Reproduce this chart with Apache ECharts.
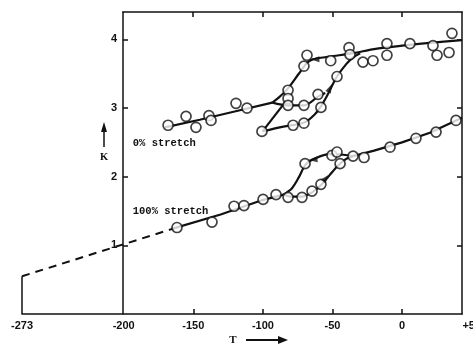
<!DOCTYPE html>
<html><head><meta charset="utf-8">
<script src="https://cdn.jsdelivr.net/npm/echarts@6/dist/echarts.min.js"></script>
<style>html,body{margin:0;padding:0;background:#fff}#c{width:473px;height:348px}</style>
</head><body><div id="c"></div>
<script>
// ---- data (T in °C, K) ----
const xTickLabels = [-273, -200, -150, -100, -50, 0];
const xTicks = [-150, -100, -50, 0];
const yTicks = [1, 2, 3, 4];

// 0% stretch measured points
const zeroPts = [[-167.7,2.75],[-154.8,2.88],[-147.7,2.72],[-138.4,2.89],[-136.9,2.82],[-119.0,3.07],[-111.1,3.00],
  [-100.4,2.66],[-81.7,3.26],[-81.7,3.14],[-81.7,3.04],[-78.1,2.75],[-70.3,2.78],[-70.3,3.04],[-70.3,3.61],[-68.1,3.77],
  [-60.2,3.20],[-58.1,3.01],[-51.1,3.69],[-46.6,3.46],[-38.0,3.88],[-37.3,3.78],[-28.0,3.67],[-20.8,3.69],
  [-10.8,3.94],[-10.8,3.77],[5.7,3.94],[22.2,3.91],[25.1,3.77],[33.7,3.81],[35.8,4.09]];
// 0% stretch curves
const zeroCooling = [[43,3.99],[20,3.95],[0,3.91],[-20,3.86],[-35,3.80],[-52,3.75],[-64,3.71],[-68,3.66],[-74,3.50],[-82,3.28],[-88,3.16],[-93,3.08]];
const zeroLow = [[-93,3.08],[-120,2.95],[-145,2.83],[-170,2.72]];
const zeroWarming = [[-100,2.66],[-85,2.73],[-70,2.79],[-62,2.92],[-58,3.03],[-54,3.17],[-51,3.29],[-46.6,3.46],[-40,3.64],[-35,3.74],[-30,3.80]];
const zeroDiag = [[-100,2.66],[-84,3.08]];
const zeroMid = [[-93,3.08],[-82,3.04],[-70,3.04],[-60,3.17],[-55,3.22]];

// 100% stretch measured points
const fullPts = [[-161.3,1.26],[-136.2,1.34],[-120.4,1.57],[-113.3,1.58],[-99.6,1.67],[-90.3,1.74],[-81.7,1.70],
  [-71.7,1.70],[-64.5,1.79],[-58.1,1.89],[-69.5,2.19],[-50.2,2.31],[-46.6,2.36],[-44.4,2.19],[-35.1,2.30],
  [-27.2,2.28],[-8.6,2.43],[10.0,2.56],[24.4,2.65],[38.7,2.82]];
// 100% stretch curves
const fullExtrap = [[-273,0.55],[-165,1.24]];
const fullLow = [[-165,1.24],[-130,1.45],[-100,1.66],[-85,1.74]];
const fullCooling = [[-85,1.74],[-79,1.83],[-74,1.99],[-69,2.18],[-62,2.27],[-52,2.33],[-42,2.32],[-35,2.30]];
const fullWarming = [[-85,1.74],[-80,1.71],[-72,1.71],[-64,1.78],[-58,1.88],[-52,2.02],[-46,2.16],[-40,2.26],[-35,2.30]];
const fullHigh = [[-35,2.30],[-20,2.38],[0,2.50],[20,2.64],[43,2.86]];
const absZeroMark = [[-273,0],[-273,0.55]];

// arrowheads: [T, K, rotation]
const arrows = [[-62.4,3.71,90],[-51.6,3.29,-25],[-63.8,2.25,95],[-54.5,1.98,-40]];
const labels = [{text:'0% stretch', t:-193, k:2.48},{text:'100% stretch', t:-193, k:1.49}];

const chart = echarts.init(document.getElementById('c'));
const axisFont = {fontFamily:'Liberation Sans', fontWeight:'bold', fontSize:11, color:'#111'};
const lineStyle = {color:'#111', width:2.2};
function curve(data, smooth, extra){
  return Object.assign({type:'line', xAxisIndex:1, yAxisIndex:1, data, smooth:smooth, symbol:'none',
    lineStyle:Object.assign({}, lineStyle), z:2, silent:true}, extra||{});
}
const series = [
  curve(zeroCooling, 0.3), curve(zeroLow, 0), curve(zeroWarming, 0.3), curve(zeroDiag, 0), curve(zeroMid, 0.3),
  curve(fullLow, 0), curve(fullCooling, 0.3), curve(fullWarming, 0.3), curve(fullHigh, 0),
  {type:'line', xAxisIndex:0, yAxisIndex:0, data:fullExtrap, symbol:'none', lineStyle:{color:'#111', width:2, type:[8,6]}, z:2},
  {type:'line', xAxisIndex:0, yAxisIndex:0, data:absZeroMark, symbol:'none', lineStyle:{color:'#111', width:1.5}, z:2},
  {type:'scatter', xAxisIndex:1, yAxisIndex:1, data:zeroPts.concat(fullPts), symbol:'circle', symbolSize:10,
    itemStyle:{color:'#fff', borderColor:'#111', borderWidth:1.7}, z:3},
  {type:'scatter', xAxisIndex:1, yAxisIndex:1, data:arrows.map(a=>[a[0],a[1]]), symbol:'triangle',
    symbolSize:[6,9], symbolRotate:(v,p)=>arrows[p.dataIndex][2], itemStyle:{color:'#111'}, z:4}
];

chart.setOption({
  animation:false,
  backgroundColor:'#fff',
  grid:[{left:22, right:11, top:12, bottom:34}, {left:123, right:11, top:12, bottom:34}],
  xAxis:[
    {gridIndex:0, type:'value', min:-273, max:43, position:'bottom',
      axisLine:{show:true, onZero:false, lineStyle:{color:'#111', width:1.5}},
      axisTick:{show:true, inside:true, length:5, customValues:xTicks, lineStyle:{color:'#111', width:1.5}},
      axisLabel:Object.assign({show:true, margin:6, customValues:xTickLabels}, axisFont),
      splitLine:{show:false}},
    {gridIndex:1, type:'value', min:-200, max:43, position:'top',
      axisLine:{show:true, onZero:false, lineStyle:{color:'#111', width:1.5}},
      axisTick:{show:true, inside:true, length:5, customValues:xTicks, lineStyle:{color:'#111', width:1.5}},
      axisLabel:{show:false}, splitLine:{show:false}}
  ],
  yAxis:[
    {gridIndex:0, type:'value', min:0, max:4.4, show:false},
    {gridIndex:1, type:'value', min:0, max:4.4, position:'left',
      axisLine:{show:true, onZero:false, lineStyle:{color:'#111', width:1.5}},
      axisTick:{show:true, inside:true, length:5, customValues:yTicks, lineStyle:{color:'#111', width:1.5}},
      axisLabel:Object.assign({show:true, margin:6, customValues:yTicks}, axisFont),
      splitLine:{show:false}},
    {gridIndex:1, type:'value', min:0, max:4.4, position:'right',
      axisLine:{show:true, onZero:false, lineStyle:{color:'#111', width:1.5}},
      axisTick:{show:true, inside:true, length:5, customValues:yTicks, lineStyle:{color:'#111', width:1.5}},
      axisLabel:{show:false}, splitLine:{show:false}}
  ],
  series
});

// graphic texts placed through the axes' own scales
const p0 = chart.convertToPixel({xAxisIndex:0, yAxisIndex:0}, [0, 0]);
const pm = chart.convertToPixel({xAxisIndex:0, yAxisIndex:0}, [-200, 0]);
const x50 = p0[0] + (p0[0]-pm[0]) * 50/200;
const g = [
  {type:'text', x:x50, y:p0[1]+6, style:{text:'+50', align:'center', verticalAlign:'top', fill:'#111', font:'bold 11px "Liberation Sans"'}},
  {type:'text', x:233, y:340, style:{text:'T', align:'center', verticalAlign:'middle', fill:'#111', font:'bold 11px "Liberation Serif"'}},
  {type:'line', shape:{x1:246, y1:340, x2:280, y2:340}, style:{stroke:'#111', lineWidth:2}},
  {type:'polygon', shape:{points:[[288,340],[278,336],[278,344]]}, style:{fill:'#111'}},
  {type:'text', x:104, y:157, style:{text:'K', align:'center', verticalAlign:'middle', fill:'#111', font:'bold 10.5px "Liberation Serif"'}},
  {type:'line', shape:{x1:104, y1:147, x2:104, y2:130}, style:{stroke:'#111', lineWidth:1.5}},
  {type:'polygon', shape:{points:[[104,122],[101,132],[107,132]]}, style:{fill:'#111'}}
];
labels.forEach(l=>{
  const p = chart.convertToPixel({xAxisIndex:1, yAxisIndex:1}, [l.t, l.k]);
  g.push({type:'text', x:p[0], y:p[1], style:{text:l.text, align:'left', verticalAlign:'middle', fill:'#111', font:'bold 10.5px "Liberation Mono"'}});
});
chart.setOption({graphic:g});
</script></body></html>
